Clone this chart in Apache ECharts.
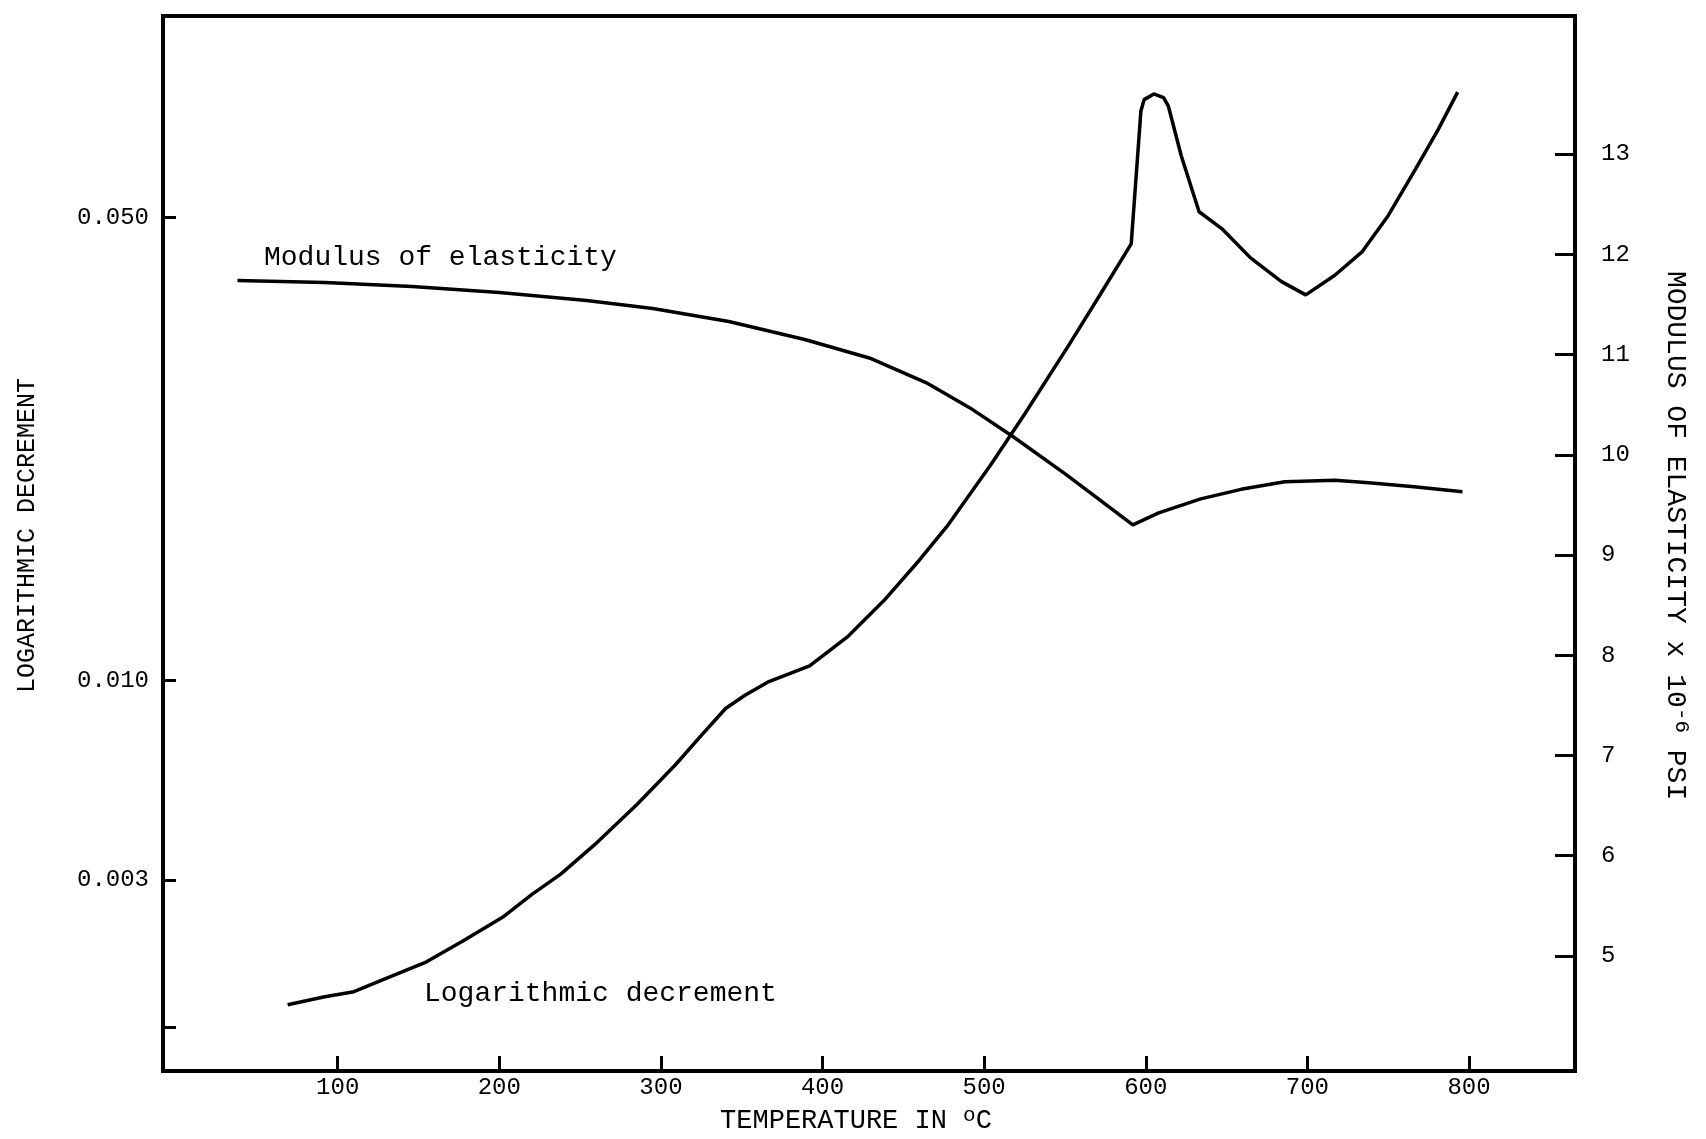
<!DOCTYPE html>
<html><head><meta charset="utf-8">
<script src="https://cdn.jsdelivr.net/npm/echarts@6/dist/echarts.min.js"></script>
<style>html,body{margin:0;padding:0;background:#fff;overflow:hidden}#c{width:1706px;height:1139px}</style>
</head><body><div id="c"></div>
<script>
// Modulus of elasticity (right axis, x 10^-6 psi) vs temperature (deg C)
const modTemp  = [38, 92, 146, 200, 254, 295, 342, 389, 430, 464, 491, 518, 551, 592, 608, 634, 659, 686, 717, 738, 766, 796];
const modValue = [11.74, 11.72, 11.68, 11.62, 11.54, 11.46, 11.33, 11.15, 10.96, 10.72, 10.47, 10.18, 9.80, 9.30, 9.42, 9.56, 9.655, 9.73, 9.745, 9.72, 9.68, 9.63];
// Logarithmic decrement (left axis, log scale) vs temperature (deg C)
const decTemp  = [69, 92, 110, 130, 155, 178, 202, 220, 238, 259, 285, 309, 325, 340, 352, 366, 392, 416, 438, 460, 477, 504, 525, 552, 572, 591, 597, 599, 605, 611, 614, 622, 633, 647, 665, 684, 699, 717, 734, 750, 767, 781, 793];
const decValue = [0.00324, 0.00333, 0.00339, 0.00355, 0.00376, 0.00405, 0.00439, 0.00475, 0.00510, 0.00565, 0.00649, 0.00746, 0.00826, 0.00907, 0.00950, 0.00994, 0.01052, 0.01167, 0.01320, 0.01520, 0.01708, 0.02115, 0.02523, 0.03197, 0.03831, 0.04560, 0.07240, 0.07530, 0.07680, 0.07580, 0.07360, 0.06190, 0.05100, 0.04810, 0.04340, 0.04000, 0.03820, 0.04090, 0.04440, 0.05030, 0.05920, 0.06790, 0.07730];
// Axis ticks and labels as printed on the reference
const xTicks = [100, 200, 300, 400, 500, 600, 700, 800];
const leftTickValues = [0.05, 0.01, 0.005, 0.003];
const leftTickLabels = ['0.050', '0.010', '0.003', ''];
const rightTicks = [5, 6, 7, 8, 9, 10, 11, 12, 13];

const FONT = '"Liberation Mono", "DejaVu Sans Mono", monospace';
const chart = echarts.init(document.getElementById('c'), null, {renderer: 'canvas'});

const pairs = (xs, ys) => xs.map((x, i) => [x, ys[i]]);

chart.setOption({
  animation: false,
  backgroundColor: '#fff',
  grid: {left: 163, top: 16, width: 1412, height: 1062, show: true, borderColor: '#000', borderWidth: 4, containLabel: false},
  xAxis: {
    type: 'value', min: -8.1, max: 865.6,
    splitLine: {show: false},
    axisLine: {onZero: false, lineStyle: {color: '#000', width: 4}},
    axisTick: {inside: true, length: 15, lineStyle: {color: '#000', width: 3}, customValues: xTicks},
    axisLabel: {customValues: xTicks, color: '#000', fontFamily: FONT, fontSize: 24, margin: 5},
    name: 'TEMPERATURE IN {sup|o}C', nameLocation: 'middle', nameGap: 22,
    nameTextStyle: {color: '#000', fontFamily: FONT, fontSize: 27, padding: [0, 26, 0, 0],
      rich: {sup: {fontFamily: FONT, fontSize: 21, verticalAlign: 'top', padding: [0, 0, 10, 0]}}}
  },
  yAxis: [{
    type: 'log', logBase: 10, min: 0.002572, max: 0.1007, position: 'left',
    splitLine: {show: false},
    axisLine: {onZero: false, lineStyle: {color: '#000', width: 4}},
    axisTick: {inside: true, length: 13, lineStyle: {color: '#000', width: 3}, customValues: leftTickValues},
    axisLabel: {customValues: leftTickValues.slice(0, 3), color: '#000', fontFamily: FONT, fontSize: 24, margin: 14,
      formatter: v => { const i = leftTickValues.findIndex(t => Math.abs(t - v) < 1e-9); return i >= 0 ? leftTickLabels[i] : ''; }},
    name: 'LOGARITHMIC DECREMENT', nameLocation: 'middle', nameRotate: 90, nameGap: 123,
    nameTextStyle: {color: '#000', fontFamily: FONT, fontSize: 25, padding: [0, 0, 0, 16]}
  }, {
    type: 'value', min: 3.85, max: 14.378, position: 'right',
    splitLine: {show: false},
    axisLine: {onZero: false, lineStyle: {color: '#000', width: 4}},
    axisTick: {inside: true, length: 20, lineStyle: {color: '#000', width: 3}, customValues: rightTicks},
    axisLabel: {customValues: rightTicks, color: '#000', fontFamily: FONT, fontSize: 24, margin: 26},
    name: 'MODULUS OF ELASTICITY x 10{sup|-6} PSI', nameLocation: 'middle', nameRotate: -90, nameGap: 84,
    nameTextStyle: {color: '#000', fontFamily: FONT, fontSize: 28, padding: [0, 16, 0, 0],
      rich: {sup: {fontFamily: FONT, fontSize: 21, verticalAlign: 'top', padding: [0, 0, 12, 0]}}}
  }],
  series: [{
    name: 'Modulus of elasticity', type: 'line', yAxisIndex: 1,
    data: pairs(modTemp, modValue), showSymbol: false, smooth: false,
    lineStyle: {color: '#000', width: 3.5}
  }, {
    name: 'Logarithmic decrement', type: 'line', yAxisIndex: 0,
    data: pairs(decTemp, decValue), showSymbol: false, smooth: false,
    lineStyle: {color: '#000', width: 3.5}
  }],
  graphic: [
    {type: 'text', left: 264, top: 244, style: {text: 'Modulus of elasticity', font: '28px ' + FONT, fill: '#000'}},
    {type: 'text', left: 424, top: 980, style: {text: 'Logarithmic decrement', font: '28px ' + FONT, fill: '#000'}}
  ]
});
</script></body></html>
